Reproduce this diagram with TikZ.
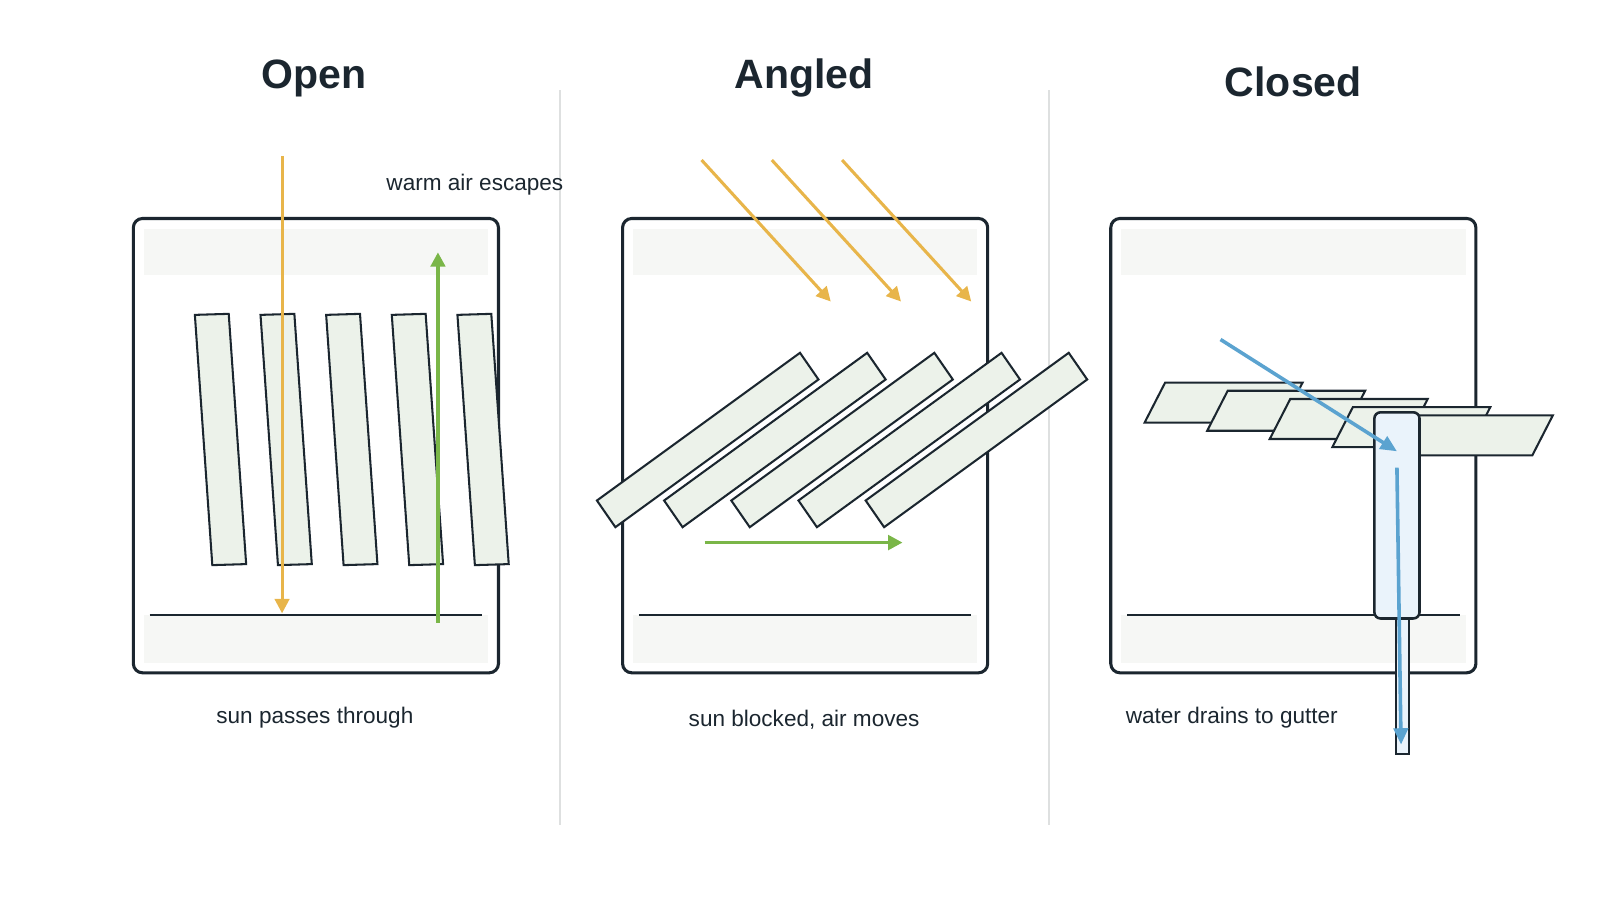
\documentclass[tikz,border=0pt]{standalone}
\usepackage{fontspec}
\setmainfont{Liberation Sans}
\usetikzlibrary{arrows.meta, positioning, calc}
\definecolor{inkcol}{RGB}{27,38,47}
\definecolor{slatcol}{RGB}{236,242,234}
\definecolor{bandcol}{RGB}{246,247,245}
\definecolor{suncol}{RGB}{232,181,74}
\definecolor{aircol}{RGB}{122,182,72}
\definecolor{raincol}{RGB}{91,163,208}
\definecolor{guttercol}{RGB}{234,243,251}
\definecolor{divcol}{RGB}{222,224,224}
\tikzset{
  frame/.style={draw=inkcol, line width=3pt, rounded corners=9pt},
  band/.style={fill=bandcol},
  slat/.style={draw=inkcol, fill=slatcol, line width=2pt},
  floor/.style={draw=inkcol, line width=2pt},
  sun/.style={draw=suncol, line width=3pt, -{Triangle[length=14pt,width=14pt]}},
  air/.style={draw=aircol, line width=3.5pt, -{Triangle[length=14pt,width=14pt]}},
  rain/.style={draw=raincol, line width=3.5pt, -{Triangle[length=16pt,width=14pt]}},
  title/.style={font=\fontsize{40}{44}\selectfont\bfseries, text=inkcol},
  caption/.style={font=\fontsize{22}{26}\selectfont, text=inkcol}
}
\begin{document}
\begin{tikzpicture}[x=1pt, y=-1pt]
  \useasboundingbox (0,0) rectangle (1560,878);
  % dividers
  \draw[divcol, line width=1.5pt] (546,88) -- (546,804);
  \draw[divcol, line width=1.5pt] (1023,88) -- (1023,804);
  % titles
  \node[title] (t-open) at (306,76) {Open};
  \node[title] (t-angled) at (784,76) {Angled};
  \node[title] (t-closed) at (1261,80) {Closed};
  % frames
  \foreach \x in {130,607,1083} {
    \fill[band] (\x+10,223) rectangle (\x+346,268);
    \fill[band] (\x+10,600) rectangle (\x+346,646);
    \draw[frame] (\x,213) rectangle (\x+356,656);
    \draw[floor] (\x+16,600) -- (\x+340,600);
  }
  % open slats
  \foreach \i in {0,...,4}
    \draw[slat, shift={(64*\i,0)}] (190,307) -- (223,306) -- (240,550) -- (207,551) -- cycle;
  \coordinate (sun-top) at (275,152);
  \coordinate (sun-floor) at (275,598);
  \coordinate (air-floor) at (427,607);
  \coordinate (air-top) at (427,246);
  \draw[sun] (sun-top) -- (sun-floor);
  \draw[air] (air-floor) -- (air-top);
  \node[caption] (warm) at (463,180) {warm air escapes};
  \node[caption] (open-cap) at (307,700) {sun passes through};
  % angled slats
  \foreach \i in {0,...,4}
    \draw[slat, shift={(65.5*\i,0)}] (582,488) -- (780,344) -- (798,370) -- (600,514) -- cycle;
  \foreach \i in {0,1,2} {
    \coordinate (ray-\i-a) at (684+68.5*\i,156);
    \coordinate (ray-\i-b) at (810+68.5*\i,294);
    \draw[sun] (ray-\i-a) -- (ray-\i-b);
  }
  \coordinate (flow-a) at (687,529);
  \coordinate (flow-b) at (880,529);
  \draw[air] (flow-a) -- (flow-b);
  \node[caption] (angled-cap) at (784,702) {sun blocked, air moves};
  % closed slats
  \foreach \i in {0,...,4}
    \draw[slat, shift={(61*\i,8*\i)}] (1136,373) -- (1270,373) -- (1250,412) -- (1116,412) -- cycle;
  \draw[draw=inkcol, fill=guttercol, line width=2pt] (1361,600) rectangle (1374,735);
  \node[draw=inkcol, fill=guttercol, line width=2.5pt, rounded corners=6pt,
        minimum width=44pt, minimum height=201pt, inner sep=0pt] (gutter) at (1362,502.5) {};
  \coordinate (rain-a) at (1190,331);
  \coordinate (rain-b) at (1362,440);
  \coordinate (pipe-a) at (1362,456);
  \coordinate (pipe-b) at (1366,726);
  \draw[rain] (rain-a) -- (rain-b);
  \draw[rain] (pipe-a) -- (pipe-b);
  \node[caption] (closed-cap) at (1201,700) {water drains to gutter};
\end{tikzpicture}
\end{document}
